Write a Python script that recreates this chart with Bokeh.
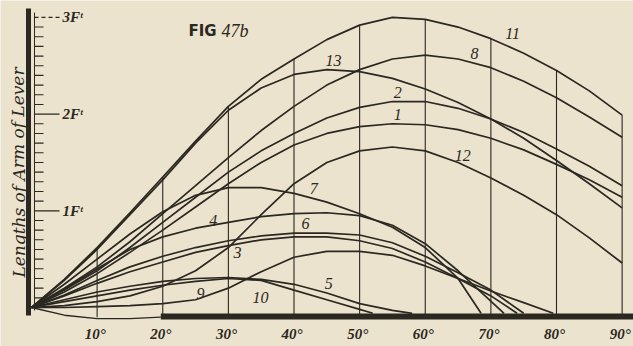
from bokeh.plotting import figure
from bokeh.models import Range1d
from bokeh.core.properties import value
from bokeh.embed import file_html
from bokeh.resources import INLINE

# ---------------- data (angle of heel in degrees, lever in feet) ----------------
deg_full = [0, 5, 10, 15, 20, 25, 30, 35, 40, 45, 50, 55, 60, 65, 70, 75, 80, 85, 90]

curve_11 = [0, 0.29, 0.62, 0.98, 1.35, 1.72, 2.08, 2.36, 2.57, 2.77, 2.92, 3.0, 2.98, 2.9, 2.78, 2.63, 2.45, 2.24, 1.99]
curve_13 = [0, 0.28, 0.6, 0.96, 1.32, 1.7, 2.04, 2.27, 2.41, 2.46, 2.44, 2.37, 2.26, 2.12, 1.95, 1.75, 1.52, 1.28, 1.03]
curve_8 = [0, 0.2, 0.42, 0.68, 0.97, 1.26, 1.55, 1.83, 2.08, 2.3, 2.46, 2.57, 2.61, 2.57, 2.48, 2.34, 2.17, 1.97, 1.76]
curve_2 = [0, 0.18, 0.38, 0.62, 0.88, 1.14, 1.4, 1.62, 1.8, 1.96, 2.07, 2.13, 2.13, 2.06, 1.95, 1.81, 1.64, 1.46, 1.26]
curve_1 = [0, 0.16, 0.35, 0.57, 0.8, 1.04, 1.28, 1.5, 1.68, 1.8, 1.87, 1.9, 1.89, 1.84, 1.75, 1.63, 1.48, 1.32, 1.14]
curve_12 = [0, 0.02, 0.06, 0.12, 0.22, 0.38, 0.62, 0.96, 1.28, 1.5, 1.62, 1.66, 1.62, 1.5, 1.34, 1.16, 0.96, 0.72, 0.46]

curve_7_deg = [0, 5, 10, 15, 20, 25, 30, 35, 40, 45, 50, 55, 60, 65, 68.5]
curve_7 = [0, 0.24, 0.5, 0.76, 0.99, 1.16, 1.24, 1.24, 1.18, 1.09, 0.97, 0.83, 0.62, 0.3, -0.06]
curve_4_deg = [0, 5, 10, 15, 20, 25, 30, 35, 40, 45, 50, 55, 60, 65, 72]
curve_4 = [0, 0.19, 0.4, 0.6, 0.73, 0.82, 0.88, 0.94, 0.97, 0.98, 0.95, 0.85, 0.66, 0.38, -0.06]
curve_6_deg = [0, 5, 10, 15, 20, 25, 30, 35, 40, 45, 50, 55, 60, 65, 70, 75]
curve_6 = [0, 0.13, 0.28, 0.42, 0.53, 0.62, 0.69, 0.74, 0.77, 0.77, 0.75, 0.67, 0.53, 0.36, 0.18, -0.06]
curve_3_deg = [0, 5, 10, 15, 20, 25, 30, 35, 40, 45, 50, 55, 60, 65, 70, 74]
curve_3 = [0, 0.12, 0.25, 0.37, 0.47, 0.57, 0.64, 0.7, 0.73, 0.73, 0.69, 0.61, 0.47, 0.3, 0.12, -0.06]
curve_9_deg = [0, 5, 10, 15, 20, 25, 30, 35, 40, 45, 50, 55, 60, 65, 70, 75, 79.5]
curve_9 = [0, 0.0, 0.01, 0.02, 0.04, 0.08, 0.2, 0.37, 0.52, 0.58, 0.58, 0.54, 0.43, 0.3, 0.17, 0.05, -0.06]
curve_5_deg = [0, 5, 10, 15, 20, 25, 30, 35, 40, 45, 50, 55, 58]
curve_5 = [0, 0.08, 0.16, 0.22, 0.27, 0.3, 0.31, 0.29, 0.24, 0.15, 0.04, -0.03, -0.06]
curve_10_deg = [0, 5, 10, 15, 20, 25, 30, 35, 40, 45, 50, 52]
curve_10 = [0, 0.06, 0.12, 0.18, 0.23, 0.27, 0.3, 0.28, 0.18, 0.08, -0.02, -0.06]

# base line of the angles (dips below zero near the origin, then the heavy rule)
base_deg = [0, 5, 10, 15, 19.7]
base_val = [0, -0.08, -0.115, -0.115, -0.1]
bar_deg = [19.7, 93]
bar_val = [-0.093, -0.093]

curve_labels = ["11", "8", "13", "2", "1", "12", "7", "4", "6", "3", "5", "10", "9"]
label_deg = [73.3, 67.5, 46.0, 55.8, 55.8, 65.7, 43.0, 27.7, 41.75, 31.4, 45.3, 34.9, 25.75]
label_ft = [2.83, 2.63, 2.55, 2.22, 2.0, 1.57, 1.23, 0.9, 0.87, 0.57, 0.25, 0.10, 0.145]

x_ticks = [10, 20, 30, 40, 50, 60, 70, 80, 90]
x_tick_labels = ["10°", "20°", "30°", "40°", "50°", "60°", "70°", "80°", "90°"]
y_ticks = [1, 2, 3]
y_tick_labels = ["1Fᵗ", "2Fᵗ", "3Fᵗ"]
y_minor = [i / 10 for i in range(1, 31) if i % 10 != 0]

title_left = "FIG"
title_right = "47b"
y_title = "Lengths of Arm of Lever"

# ---------------- layout ----------------
W, H = 633, 346
PXD = 6.5625  # pixels per degree
PXF = 96.7    # pixels per foot
X0 = 31       # px of 0 deg from the left
Y0 = 39       # px of 0 ft from the bottom
BG = "#ebe3cd"
INK = "#2b2721"


def dx(px):
    return px / PXD


def dy(px):
    return px / PXF


p = figure(width=W, height=H,
           x_range=Range1d(-X0 / PXD, (W - X0) / PXD),
           y_range=Range1d(-Y0 / PXF, (H - Y0) / PXF),
           output_backend="svg", toolbar_location=None,
           x_axis_location=None, y_axis_location=None, min_border=0)
p.grid.grid_line_color = None
p.outline_line_color = None
p.background_fill_color = BG
p.border_fill_color = BG

serif = value("Liberation Serif")

# vertical degree lines, from the base up to curve 11
c11 = dict(zip(deg_full, curve_11))
p.segment(x0=x_ticks, y0=[-0.1] * len(x_ticks), x1=x_ticks,
          y1=[c11[d] for d in x_ticks], line_color=INK, line_width=1.1)

# base
p.line(base_deg, base_val, line_color=INK, line_width=1.3)
p.line(bar_deg, bar_val, line_color=INK, line_width=6)

# curves
full_curves = [curve_11, curve_13, curve_8, curve_2, curve_1, curve_12]
for c in full_curves:
    p.line(deg_full, c, line_color=INK, line_width=1.7)
for d, c in [(curve_7_deg, curve_7), (curve_4_deg, curve_4), (curve_6_deg, curve_6),
             (curve_3_deg, curve_3), (curve_9_deg, curve_9), (curve_5_deg, curve_5),
             (curve_10_deg, curve_10)]:
    p.line(d, c, line_color=INK, line_width=1.7)

# y axis: heavy bar, thin rule, ticks
p.segment(x0=[-dx(3)], y0=[dy(299)], x1=[-dx(3)], y1=[-dy(8)], line_color=INK, line_width=5)
p.segment(x0=[dx(3)], y0=[3.05], x1=[dx(3)], y1=[-dy(3)], line_color=INK, line_width=1)
p.segment(x0=[dx(3)] * len(y_minor), y0=y_minor, x1=[dx(12)] * len(y_minor), y1=y_minor,
          line_color=INK, line_width=1.1)
p.segment(x0=[dx(3)] * 2, y0=y_ticks[:2], x1=[dx(28)] * 2, y1=y_ticks[:2],
          line_color=INK, line_width=1.2)
p.segment(x0=[dx(3)], y0=[y_ticks[2]], x1=[dx(29)], y1=[y_ticks[2]],
          line_color=INK, line_width=1.2, line_dash="4 3")
p.text(x=[dx(31)] * 3, y=y_ticks, text=y_tick_labels, text_font=serif,
       text_font_size=value("15px"), text_font_style="bold italic",
       text_color=INK, text_baseline="middle", text_align="left")

# x tick labels
p.text(x=x_ticks, y=[-dy(26)] * len(x_ticks), text=x_tick_labels, x_offset=-2,
       text_font=serif, text_font_size=value("15px"), text_font_style="bold italic",
       text_color=INK, text_baseline="middle", text_align="center")

# curve numbers
p.text(x=label_deg, y=label_ft, text=curve_labels, text_font=serif,
       text_font_size=value("16px"), text_font_style="italic",
       text_color=INK, text_baseline="middle", text_align="center")

# vertical title, left of the heavy bar
p.text(x=[-dx(13)], y=[dy(135)], text=[y_title], angle=1.5708,
       text_font=value("DejaVu Serif"), text_font_size=value("17px"),
       text_font_style="italic", text_color=INK,
       text_baseline="middle", text_align="center")

# figure title
p.text(x=[28.2], y=[dy(277)], text=[title_left], text_font=value("DejaVu Sans"),
       text_font_size=value("15px"), text_font_style="bold", text_color=INK,
       text_baseline="middle", text_align="right")
p.text(x=[28.95], y=[dy(277)], text=[title_right], text_font=serif,
       text_font_size=value("18px"), text_font_style="italic", text_color=INK,
       text_baseline="middle", text_align="left")

open("out.html", "w").write(file_html(p, INLINE))
